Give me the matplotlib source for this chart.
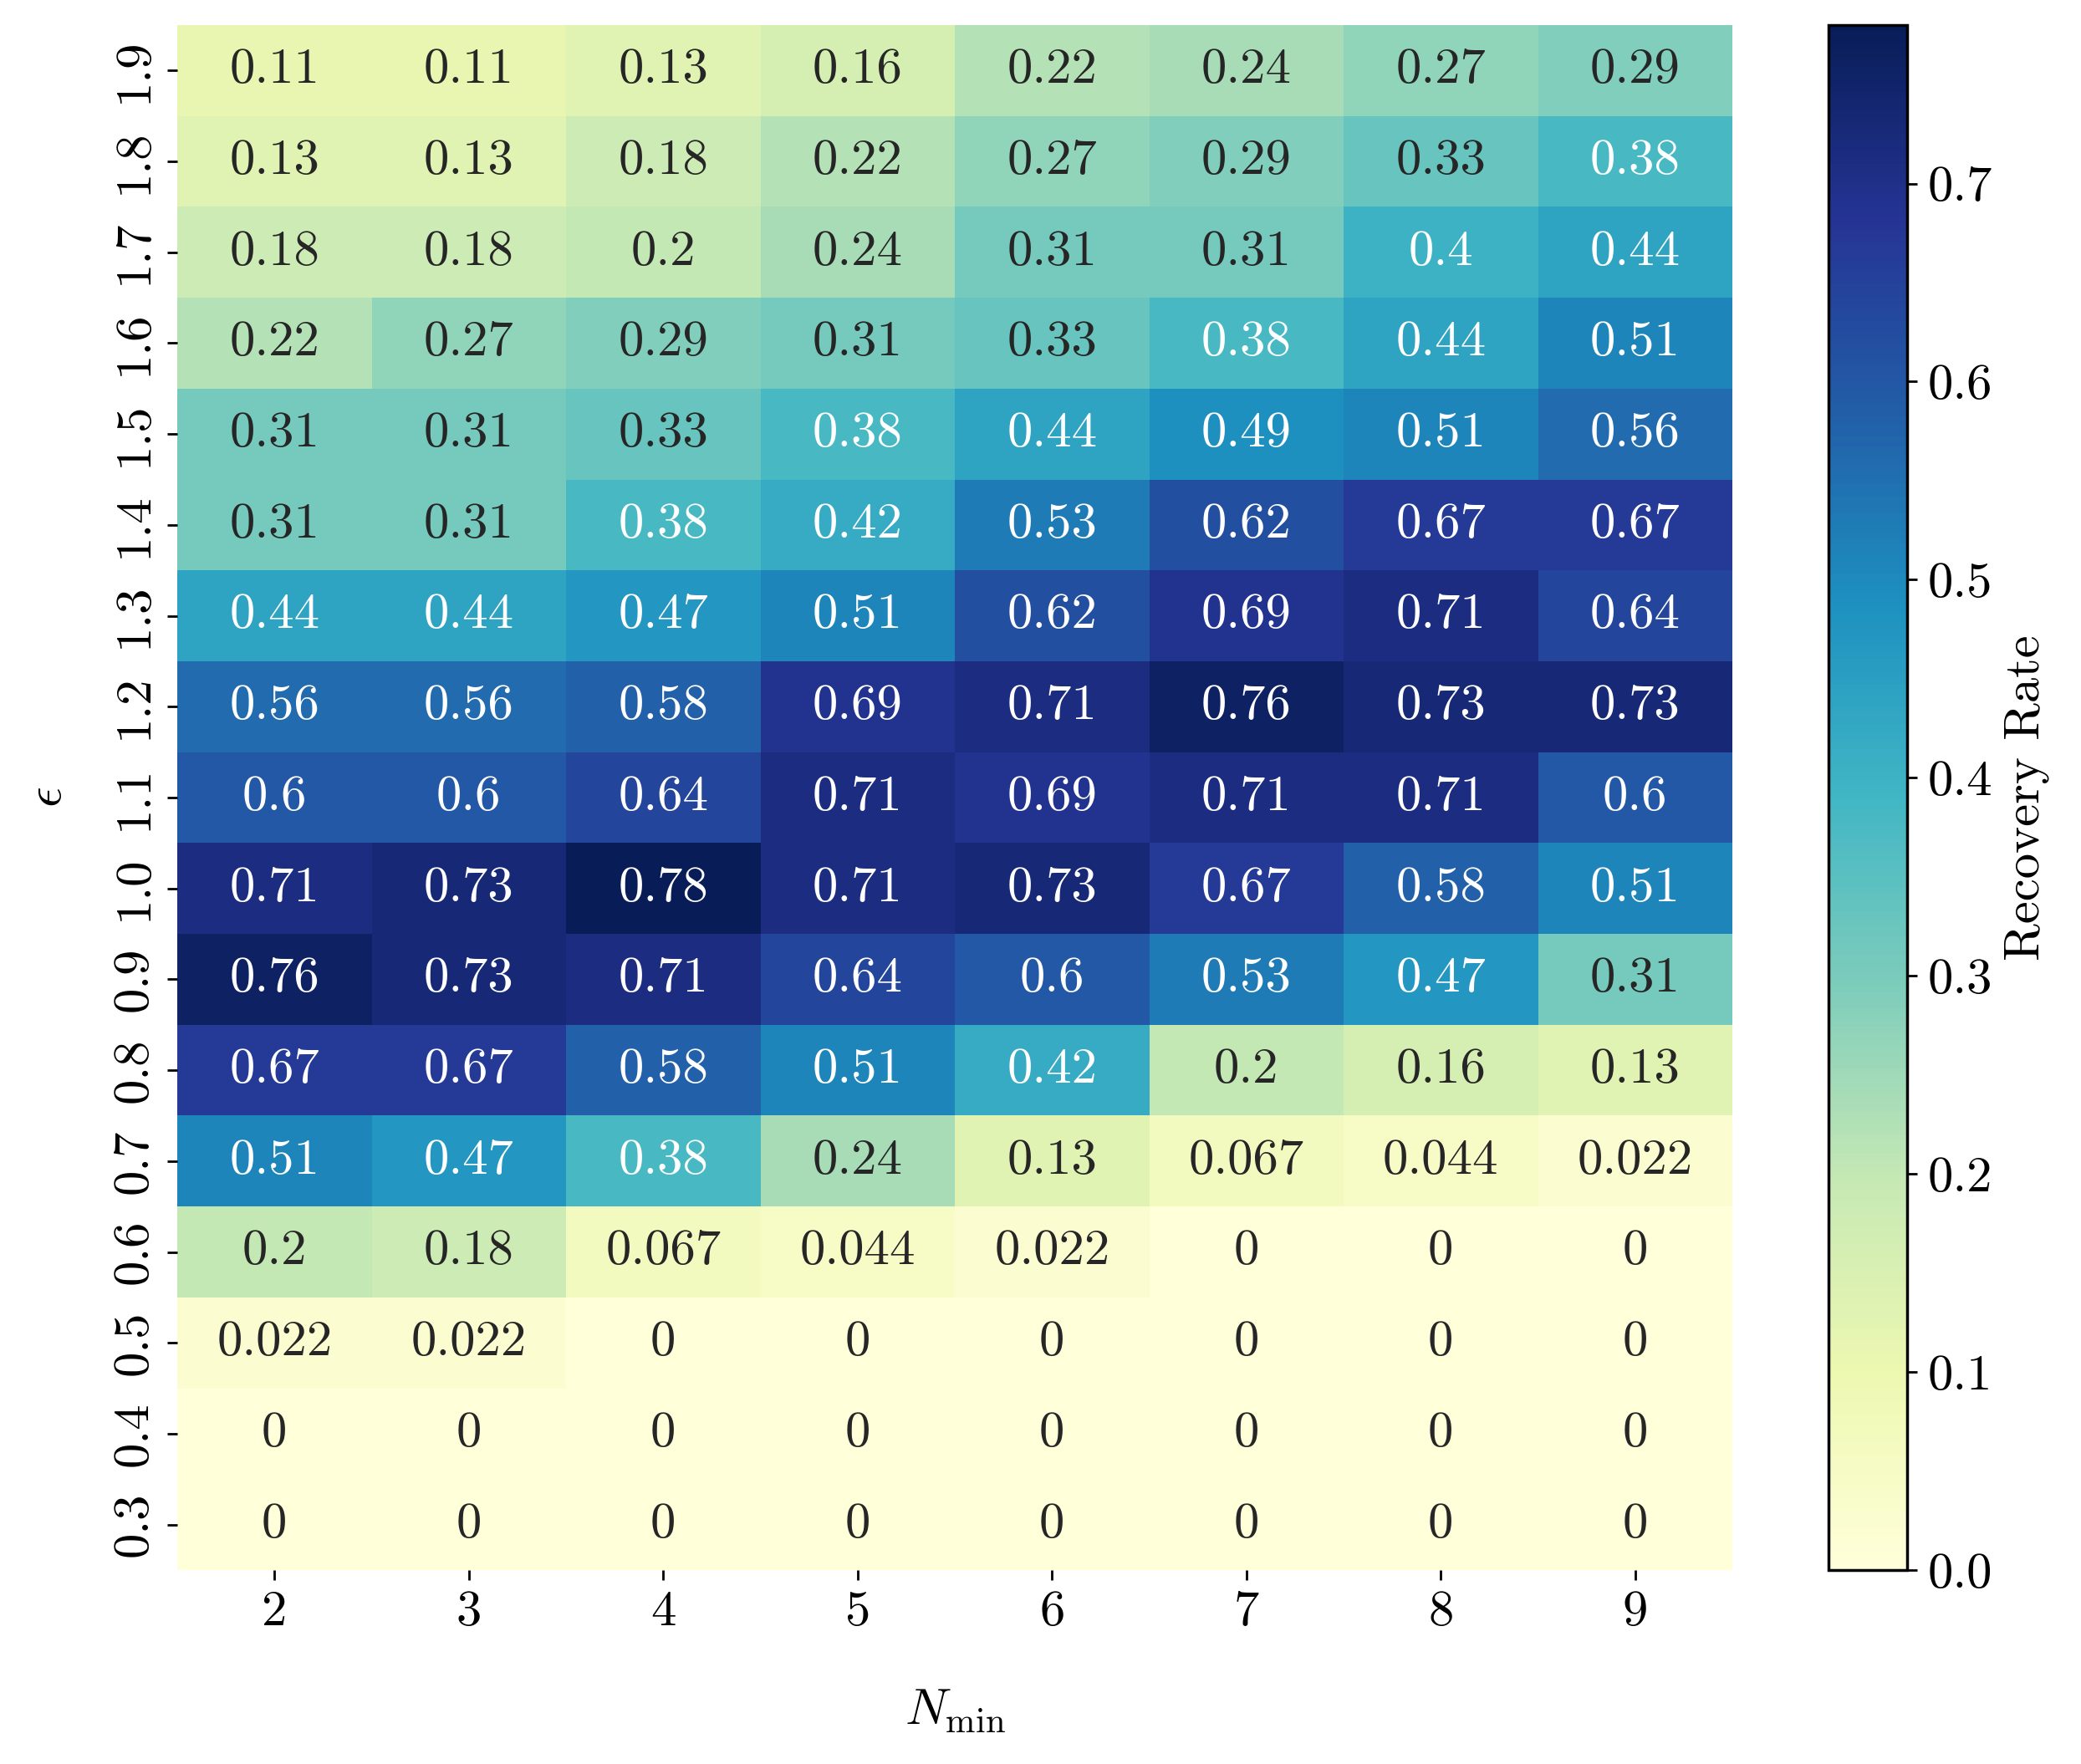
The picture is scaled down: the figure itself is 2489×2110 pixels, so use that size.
import numpy as np
import matplotlib
matplotlib.use("Agg")
import matplotlib.pyplot as plt
import seaborn as sns

eps_labels = ["1.9", "1.8", "1.7", "1.6", "1.5", "1.4", "1.3", "1.2", "1.1",
              "1.0", "0.9", "0.8", "0.7", "0.6", "0.5", "0.4", "0.3"]
nmin_labels = ["2", "3", "4", "5", "6", "7", "8", "9"]

row_19 = [0.11, 0.11, 0.13, 0.16, 0.22, 0.24, 0.27, 0.29]
row_18 = [0.13, 0.13, 0.18, 0.22, 0.27, 0.29, 0.33, 0.38]
row_17 = [0.18, 0.18, 0.2, 0.24, 0.31, 0.31, 0.4, 0.44]
row_16 = [0.22, 0.27, 0.29, 0.31, 0.33, 0.38, 0.44, 0.51]
row_15 = [0.31, 0.31, 0.33, 0.38, 0.44, 0.49, 0.51, 0.56]
row_14 = [0.31, 0.31, 0.38, 0.42, 0.53, 0.62, 0.67, 0.67]
row_13 = [0.44, 0.44, 0.47, 0.51, 0.62, 0.69, 0.71, 0.64]
row_12 = [0.56, 0.56, 0.58, 0.69, 0.71, 0.76, 0.73, 0.73]
row_11 = [0.6, 0.6, 0.64, 0.71, 0.69, 0.71, 0.71, 0.6]
row_10 = [0.71, 0.73, 0.78, 0.71, 0.73, 0.67, 0.58, 0.51]
row_09 = [0.76, 0.73, 0.71, 0.64, 0.6, 0.53, 0.47, 0.31]
row_08 = [0.67, 0.67, 0.58, 0.51, 0.42, 0.2, 0.16, 0.13]
row_07 = [0.51, 0.47, 0.38, 0.24, 0.13, 0.067, 0.044, 0.022]
row_06 = [0.2, 0.18, 0.067, 0.044, 0.022, 0, 0, 0]
row_05 = [0.022, 0.022, 0, 0, 0, 0, 0, 0]
row_04 = [0, 0, 0, 0, 0, 0, 0, 0]
row_03 = [0, 0, 0, 0, 0, 0, 0, 0]

data = np.array([row_19, row_18, row_17, row_16, row_15, row_14, row_13, row_12,
                 row_11, row_10, row_09, row_08, row_07, row_06, row_05, row_04,
                 row_03])

plt.rcParams["font.family"] = "serif"
plt.rcParams["font.serif"] = ["cmr10"]
plt.rcParams["mathtext.fontset"] = "cm"
plt.rcParams["axes.formatter.use_mathtext"] = True
plt.rcParams["axes.unicode_minus"] = False

fs = 17.5
W, H = 2489, 2110
fig = plt.figure(figsize=(W / 250, H / 250), dpi=250)
ax = fig.add_axes([212 / W, 1 - 1878 / H, (2072 - 212) / W, (1878 - 30) / H])
cax = fig.add_axes([2187 / W, 1 - 1878 / H, (2281 - 2187) / W, (1878 - 30) / H])

sns.heatmap(data, ax=ax, cbar_ax=cax, cmap="YlGnBu", annot=True, fmt=".2g",
            annot_kws={"fontsize": fs},
            xticklabels=nmin_labels, yticklabels=eps_labels,
            cbar_kws={"label": "Recovery Rate"})

ax.set_xlabel(r"$N_{\min}$", fontsize=fs, labelpad=18)
ax.set_ylabel(r"$\epsilon$", fontsize=fs, labelpad=14)
ax.tick_params(axis="both", labelsize=fs, length=3.5, width=0.8)
plt.setp(ax.get_yticklabels(), rotation=90, va="center")
plt.setp(ax.get_xticklabels(), rotation=0)

cax.tick_params(labelsize=fs, length=3.5, width=0.8)
cax.yaxis.label.set_size(fs)
cb = ax.collections[0].colorbar
cb.outline.set_visible(True)
cb.outline.set_edgecolor("black")
cb.outline.set_linewidth(1.0)
cb.set_ticks([0.0, 0.1, 0.2, 0.3, 0.4, 0.5, 0.6, 0.7])
cb.set_ticklabels(["0.0", "0.1", "0.2", "0.3", "0.4", "0.5", "0.6", "0.7"])

fig.savefig("out.png", dpi=250)
